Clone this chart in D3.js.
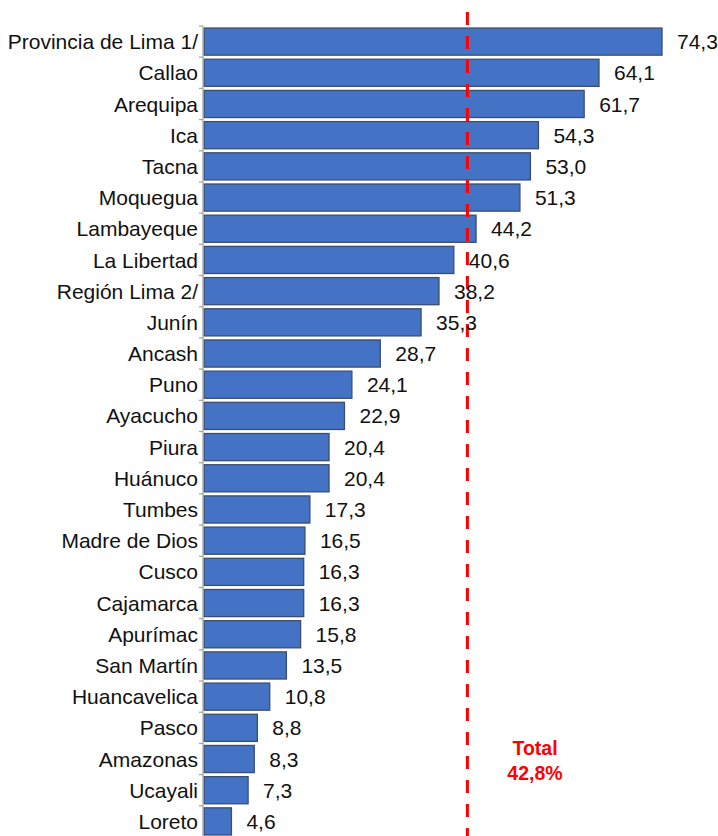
<!DOCTYPE html>
<html>
<head>
<meta charset="utf-8">
<script src="https://cdn.jsdelivr.net/npm/d3@7"></script>
<style>
  body { margin: 0; background: #fff; }
  svg { display: block; font-family: "Liberation Sans", Arial, sans-serif; }
</style>
</head>
<body>
<script>
// regiones y porcentajes
let regions = ["Provincia de Lima 1/", "Callao", "Arequipa", "Ica", "Tacna", "Moquegua",
    "Lambayeque", "La Libertad", "Región Lima 2/", "Junín", "Ancash", "Puno", "Ayacucho",
    "Piura", "Huánuco", "Tumbes", "Madre de Dios", "Cusco", "Cajamarca", "Apurímac",
    "San Martín", "Huancavelica", "Pasco", "Amazonas", "Ucayali", "Loreto"];
let values = [74.3, 64.1, 61.7, 54.3, 53.0, 51.3, 44.2, 40.6, 38.2, 35.3, 28.7, 24.1, 22.9,
    20.4, 20.4, 17.3, 16.5, 16.3, 16.3, 15.8, 13.5, 10.8, 8.8, 8.3, 7.3, 4.6];
let total = 42.8;
let totalLabel = ["Total", "42,8%"];

let width = 718, height = 836;
let x0 = 203;

let svg = d3.select('body').append('svg')
    .attr('width', width)
    .attr('height', height);

let x = d3.scaleLinear().domain([0, 74.3]).range([x0, 662]);
let y = d3.scaleBand().domain(regions).range([26, 837]).paddingInner(0.13).paddingOuter(0.065);

let fmt = v => d3.format(".1f")(v).replace(".", ",");

// barras
svg.selectAll('rect.bar').data(values).enter().append('rect')
    .attr('class', 'bar')
    .attr('x', x(0) + 1)
    .attr('y', (d, i) => y(regions[i]))
    .attr('width', d => x(d) - x(0) - 1)
    .attr('height', y.bandwidth())
    .attr('fill', '#4472C4')
    .attr('stroke', '#3B4E70')
    .attr('stroke-width', 1.3);

// eje vertical con ticks entre categorias
let axisG = svg.append('g');
axisG.append('line')
    .attr('x1', x0).attr('x2', x0)
    .attr('y1', 26).attr('y2', 837)
    .attr('stroke', '#A6A6A6').attr('stroke-width', 1.3);
let tickYs = d3.range(regions.length + 1).map(i => 26 + i * (811 / regions.length));
axisG.selectAll('line.tick').data(tickYs).enter().append('line')
    .attr('class', 'tick')
    .attr('x1', x0 - 4).attr('x2', x0)
    .attr('y1', d => d).attr('y2', d => d)
    .attr('stroke', '#A6A6A6').attr('stroke-width', 1.3);

// etiquetas de categorias
svg.selectAll('text.cat').data(regions).enter().append('text')
    .attr('class', 'cat')
    .attr('x', 198)
    .attr('y', d => y(d) + y.bandwidth() / 2)
    .attr('dy', '0.36em')
    .attr('text-anchor', 'end')
    .attr('font-size', 21)
    .attr('fill', '#111')
    .text(d => d);

// linea del total
svg.append('line')
    .attr('x1', x(total)).attr('x2', x(total))
    .attr('y1', 12).attr('y2', height)
    .attr('stroke', '#FF0000')
    .attr('stroke-width', 3)
    .attr('stroke-dasharray', '13,11');

// valores
svg.selectAll('text.val').data(values).enter().append('text')
    .attr('class', 'val')
    .attr('x', d => x(d) + 15)
    .attr('y', (d, i) => y(regions[i]) + y.bandwidth() / 2)
    .attr('dy', '0.36em')
    .attr('font-size', 21)
    .attr('fill', '#111')
    .text(d => fmt(d));

svg.selectAll('text.total').data(totalLabel).enter().append('text')
    .attr('class', 'total')
    .attr('x', 535)
    .attr('y', (d, i) => 755 + i * 25)
    .attr('text-anchor', 'middle')
    .attr('font-size', 19.5)
    .attr('font-weight', 'bold')
    .attr('fill', '#FF0000')
    .text(d => d);
</script>
</body>
</html>
